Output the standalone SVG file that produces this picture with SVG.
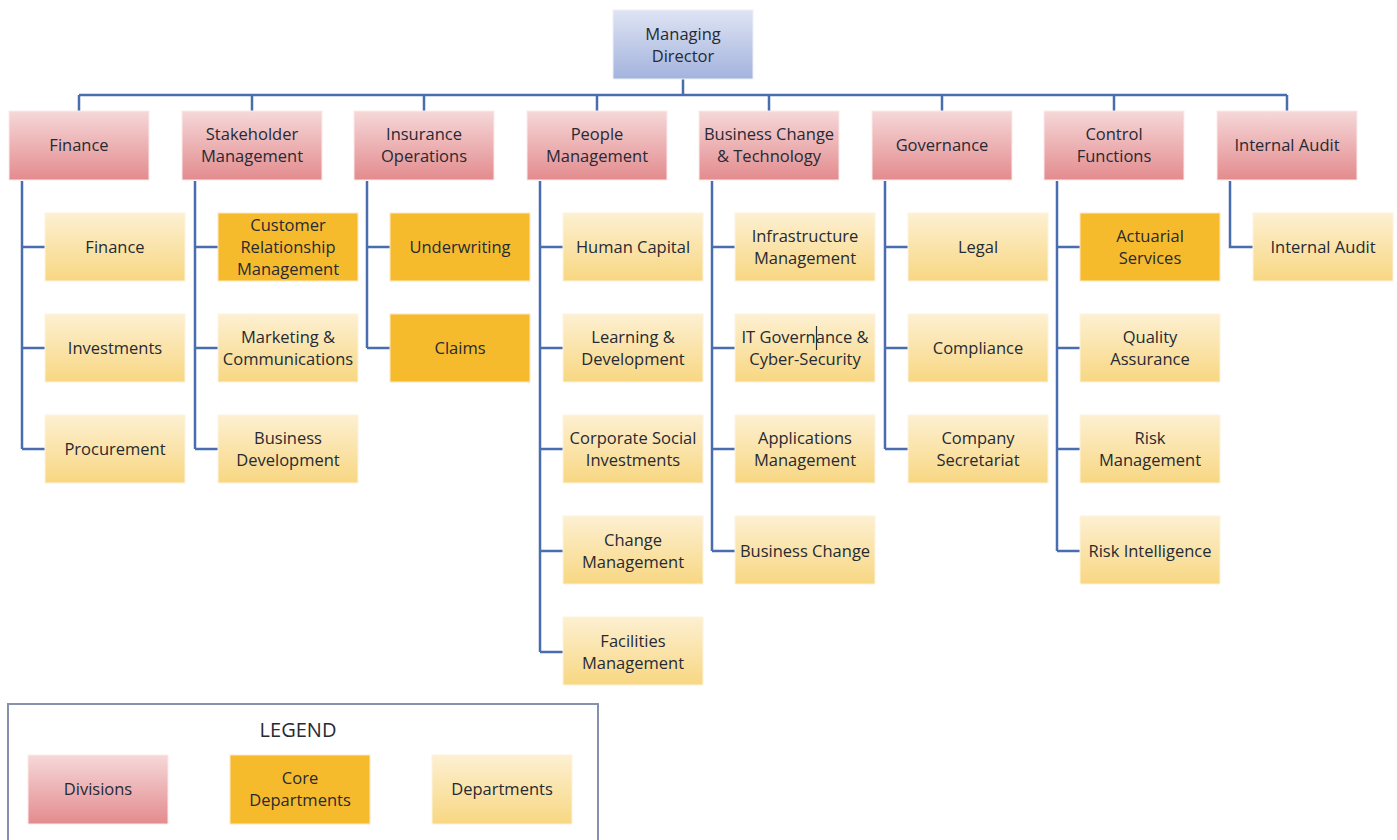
<svg xmlns="http://www.w3.org/2000/svg" width="1397" height="840" viewBox="0 0 1397 840">
<defs>
<linearGradient id="gMD" x1="0" y1="0" x2="0" y2="1"><stop offset="0" stop-color="#dfe4f4"/><stop offset="1" stop-color="#a3b3dd"/></linearGradient>
<linearGradient id="gDiv" x1="0" y1="0" x2="0" y2="1"><stop offset="0" stop-color="#f6d8d9"/><stop offset="1" stop-color="#e38b8e"/></linearGradient>
<linearGradient id="gDep" x1="0" y1="0" x2="0" y2="1"><stop offset="0" stop-color="#fdf0d2"/><stop offset="1" stop-color="#f8d782"/></linearGradient>
<style>
.md{fill:url(#gMD);stroke:#eef0f8;stroke-width:1}
.div{fill:url(#gDiv);stroke:#fbeaea;stroke-width:1}
.dep{fill:url(#gDep);stroke:#fdf3e0;stroke-width:1}
.core{fill:#f6bb2c;stroke:#fde8c8;stroke-width:1}
text{font-family:"Open Sans","Liberation Sans",sans-serif;font-size:16.5px;fill:#262a33;text-anchor:middle}
.ln{fill:none;stroke:#4a6db0;stroke-width:2.5}
</style>
</defs>
<rect width="1397" height="840" fill="#fff"/>
<g id="connectors" class="ln">
<path d="M683 79V95M79 95H1287M79 95V111M252 95V111M424 95V111M597 95V111M769 95V111M942 95V111M1114 95V111M1287 95V111"/>
<path d="M22 181V449M22 247H45M22 348H45M22 449H45"/>
<path d="M195 181V449M195 247H218M195 348H218M195 449H218"/>
<path d="M367 181V348M367 247H390M367 348H390"/>
<path d="M540 181V652M540 247H563M540 348H563M540 449H563M540 551H563M540 652H563"/>
<path d="M712 181V551M712 247H735M712 348H735M712 449H735M712 551H735"/>
<path d="M885 181V449M885 247H908M885 348H908M885 449H908"/>
<path d="M1057 181V551M1057 247H1080M1057 348H1080M1057 449H1080M1057 551H1080"/>
<path d="M1230 181V247H1253"/>
</g>
<g id="md"><rect class="md" x="613" y="10" width="140" height="69"/><text x="683" y="40">Managing</text><text x="683" y="62">Director</text></g>
<g id="div-finance"><rect class="div" x="9" y="111" width="140" height="69"/><text x="79" y="151">Finance</text></g>
<g id="div-stakeholder"><rect class="div" x="182" y="111" width="140" height="69"/><text x="252" y="140">Stakeholder</text><text x="252" y="162">Management</text></g>
<g id="div-insurance"><rect class="div" x="354" y="111" width="140" height="69"/><text x="424" y="140">Insurance</text><text x="424" y="162">Operations</text></g>
<g id="div-people"><rect class="div" x="527" y="111" width="140" height="69"/><text x="597" y="140">People</text><text x="597" y="162">Management</text></g>
<g id="div-bct"><rect class="div" x="699" y="111" width="140" height="69"/><text x="769" y="140">Business Change</text><text x="769" y="162">&amp; Technology</text></g>
<g id="div-governance"><rect class="div" x="872" y="111" width="140" height="69"/><text x="942" y="151">Governance</text></g>
<g id="div-control"><rect class="div" x="1044" y="111" width="140" height="69"/><text x="1114" y="140">Control</text><text x="1114" y="162">Functions</text></g>
<g id="div-audit"><rect class="div" x="1217" y="111" width="140" height="69"/><text x="1287" y="151">Internal Audit</text></g>

<g id="d-finance"><rect class="dep" x="45" y="213" width="140" height="68"/><text x="115" y="253">Finance</text></g>
<g id="d-investments"><rect class="dep" x="45" y="314" width="140" height="68"/><text x="115" y="354">Investments</text></g>
<g id="d-procurement"><rect class="dep" x="45" y="415" width="140" height="68"/><text x="115" y="455">Procurement</text></g>

<g id="d-crm"><rect class="core" x="218" y="213" width="140" height="68"/><text x="288" y="231">Customer</text><text x="288" y="253">Relationship</text><text x="288" y="275">Management</text></g>
<g id="d-marketing"><rect class="dep" x="218" y="314" width="140" height="68"/><text x="288" y="343">Marketing &amp;</text><text x="288" y="365">Communications</text></g>
<g id="d-busdev"><rect class="dep" x="218" y="415" width="140" height="68"/><text x="288" y="444">Business</text><text x="288" y="466">Development</text></g>

<g id="d-underwriting"><rect class="core" x="390" y="213" width="140" height="68"/><text x="460" y="253">Underwriting</text></g>
<g id="d-claims"><rect class="core" x="390" y="314" width="140" height="68"/><text x="460" y="354">Claims</text></g>

<g id="d-human"><rect class="dep" x="563" y="213" width="140" height="68"/><text x="633" y="253">Human Capital</text></g>
<g id="d-learning"><rect class="dep" x="563" y="314" width="140" height="68"/><text x="633" y="343">Learning &amp;</text><text x="633" y="365">Development</text></g>
<g id="d-csi"><rect class="dep" x="563" y="415" width="140" height="68"/><text x="633" y="444">Corporate Social</text><text x="633" y="466">Investments</text></g>
<g id="d-change"><rect class="dep" x="563" y="516" width="140" height="68"/><text x="633" y="546">Change</text><text x="633" y="568">Management</text></g>
<g id="d-facilities"><rect class="dep" x="563" y="617" width="140" height="68"/><text x="633" y="647">Facilities</text><text x="633" y="669">Management</text></g>

<g id="d-infra"><rect class="dep" x="735" y="213" width="140" height="68"/><text x="805" y="242">Infrastructure</text><text x="805" y="264">Management</text></g>
<g id="d-itgov"><rect class="dep" x="735" y="314" width="140" height="68"/><text x="805" y="343">IT Governance &amp;</text><text x="805" y="365">Cyber-Security</text><line x1="816.5" y1="326" x2="816.5" y2="350" stroke="#262a33" stroke-width="1.2"/></g>
<g id="d-apps"><rect class="dep" x="735" y="415" width="140" height="68"/><text x="805" y="444">Applications</text><text x="805" y="466">Management</text></g>
<g id="d-buschange"><rect class="dep" x="735" y="516" width="140" height="68"/><text x="805" y="557">Business Change</text></g>

<g id="d-legal"><rect class="dep" x="908" y="213" width="140" height="68"/><text x="978" y="253">Legal</text></g>
<g id="d-compliance"><rect class="dep" x="908" y="314" width="140" height="68"/><text x="978" y="354">Compliance</text></g>
<g id="d-cosec"><rect class="dep" x="908" y="415" width="140" height="68"/><text x="978" y="444">Company</text><text x="978" y="466">Secretariat</text></g>

<g id="d-actuarial"><rect class="core" x="1080" y="213" width="140" height="68"/><text x="1150" y="242">Actuarial</text><text x="1150" y="264">Services</text></g>
<g id="d-qa"><rect class="dep" x="1080" y="314" width="140" height="68"/><text x="1150" y="343">Quality</text><text x="1150" y="365">Assurance</text></g>
<g id="d-risk"><rect class="dep" x="1080" y="415" width="140" height="68"/><text x="1150" y="444">Risk</text><text x="1150" y="466">Management</text></g>
<g id="d-riskint"><rect class="dep" x="1080" y="516" width="140" height="68"/><text x="1150" y="557">Risk Intelligence</text></g>

<g id="d-internalaudit"><rect class="dep" x="1253" y="213" width="140" height="68"/><text x="1323" y="253">Internal Audit</text></g>

<g id="legend">
<rect x="8" y="704" width="590" height="150" fill="#fff" stroke="#8791ad" stroke-width="2"/>
<text x="298" y="737" style="font-size:20px">LEGEND</text>
<rect class="div" x="28" y="755" width="140" height="69"/><text x="98" y="795">Divisions</text>
<rect class="core" x="230" y="755" width="140" height="69"/><text x="300" y="784">Core</text><text x="300" y="806">Departments</text>
<rect class="dep" x="432" y="755" width="140" height="69"/><text x="502" y="795">Departments</text>
</g>
</svg>
